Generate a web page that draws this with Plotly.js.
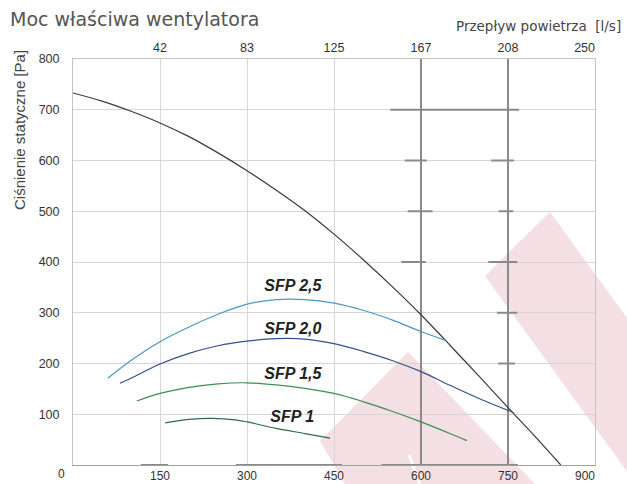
<!DOCTYPE html>
<html>
<head>
<meta charset="utf-8">
<script src="https://cdn.plot.ly/plotly-3.0.1.min.js"></script>
<style>html,body{margin:0;padding:0;background:#fff;}#chart{width:627px;height:484px;}</style>
</head>
<body>
<div id="chart"></div>
<script>
// ---- data (x: m3/h, y: Pa) ----
const fanQ = [0, 50, 100, 150, 200, 250, 300, 350, 400, 450, 500, 550, 600, 650, 700, 750, 800, 841];
const fanP = [733, 717, 697, 674, 647, 615, 580, 542, 501, 455, 405, 352, 296, 236, 175, 113, 52, 0];

const sfp25Q = [60, 100, 150, 200, 250, 300, 350, 400, 450, 500, 550, 600, 641];
const sfp25P = [171, 206, 243, 272, 297, 317, 326, 326, 319, 305, 286, 263, 246];

const sfp20Q = [81, 100, 150, 200, 250, 300, 350, 400, 450, 500, 550, 600, 650, 700, 760];
const sfp20P = [161, 171, 199, 220, 235, 244, 249, 248, 239, 224, 206, 184, 157, 131, 103];

const sfp15Q = [110, 150, 200, 250, 300, 350, 400, 450, 500, 550, 600, 650, 679];
const sfp15P = [126, 141, 153, 160, 162, 158, 151, 141, 125, 106, 85, 62, 48];

const sfp10Q = [159, 200, 240, 280, 300, 350, 400, 443];
const sfp10P = [83, 90, 92, 89, 85, 72, 62, 53];

const sfpNames = ['SFP 2,5', 'SFP 2,0', 'SFP 1,5', 'SFP 1'];
const sfpLabelQ = [379, 379, 379, 378];
const sfpLabelP = [350, 266, 177, 93];

const xTickVals = [150, 300, 450, 600, 750, 900];
const xTickText = ['150', '300', '450', '600', '750', '900'];
const topTickText = ['42', '83', '125', '167', '208', '250'];
const yTickVals = [100, 200, 300, 400, 500, 600, 700, 800];
const yTickText = ['100', '200', '300', '400', '500', '600', '700', '800'];

// reading guide lines
const guideQ = [600, 750];
const rulerP = [700, 600, 600, 500, 500, 400, 400, 300, 200];
const rulerFrom = [547, 572, 721, 577, 734, 566, 716, 731, 733];
const rulerTo = [769, 610, 760, 620, 759, 608, 766, 766, 762];
const baseFrom = [117, 281, 532];
const baseTo = [164, 464, 767];

// ---- styles ----
const NB = '\u00a0';
const pad = NB.repeat(6);
const xText = xTickText.map((t, i) => i === xTickText.length - 1 ? t + pad : t);
const tText = topTickText.map((t, i) => i === topTickText.length - 1 ? t + pad : t);

const tickFont = {family: 'Liberation Sans, Arial, sans-serif', size: 12.5, color: '#333'};
const bottomFont = {family: 'Liberation Sans, Arial, sans-serif', size: 12, color: '#333'};
const curveColors = ['#4a98c9', '#34508f', '#3d8f4f', '#2e6b45'];

// pixel -> paper helpers for decorations outside plot
const L = 73, R = 595, T = 59, B = 465;
const px = v => (v - L) / (R - L);
const py = v => (B - v) / (B - T);

const traces = [
  {x: fanQ, y: fanP, mode: 'lines', line: {color: '#3a3a3a', width: 1.2, shape: 'spline', smoothing: 0.8}, hoverinfo: 'skip'},
  {x: sfp25Q, y: sfp25P, mode: 'lines', line: {color: curveColors[0], width: 1.2, shape: 'spline'}},
  {x: sfp20Q, y: sfp20P, mode: 'lines', line: {color: curveColors[1], width: 1.2, shape: 'spline'}},
  {x: sfp15Q, y: sfp15P, mode: 'lines', line: {color: curveColors[2], width: 1.2, shape: 'spline'}},
  {x: sfp10Q, y: sfp10P, mode: 'lines', line: {color: curveColors[3], width: 1.2, shape: 'spline'}},
  {x: sfpLabelQ, y: sfpLabelP, mode: 'text', text: sfpNames, textposition: 'middle center',
   textfont: {family: 'Liberation Sans, Arial, sans-serif', size: 16, color: '#222', weight: 'bold', style: 'italic'},
   hoverinfo: 'skip'},
  {x: [0, 900], y: [0, 0], xaxis: 'x2', mode: 'lines', line: {width: 0}, hoverinfo: 'skip'}
];

const shapes = [];
// pink watermark
const pink = '#f3dfe4';
function poly(pts) {
  return 'M ' + pts.map(p => px(p[0]) + ',' + py(p[1])).join(' L ') + ' Z';
}
shapes.push({type: 'path', xref: 'paper', yref: 'paper', layer: 'below', line: {width: 0}, fillcolor: pink,
  path: poly([[485, 276], [550, 212], [640, 336], [640, 484], [636, 484]])});
shapes.push({type: 'path', xref: 'paper', yref: 'paper', layer: 'below', line: {width: 0}, fillcolor: pink,
  path: poly([[320, 441], [408, 352], [535, 484], [345, 484]])});
shapes.push({type: 'line', xref: 'paper', yref: 'paper', layer: 'below', line: {width: 3, color: '#ffffff'},
  x0: px(409), y0: py(455), x1: px(420), y1: py(484)});

guideQ.forEach(q => shapes.push({type: 'line', xref: 'x', yref: 'y', layer: 'between', x0: q, x1: q, y0: 0, y1: 800,
  line: {color: '#8a8a8a', width: 2}}));
rulerP.forEach((p, i) => shapes.push({type: 'line', xref: 'x', yref: 'y', layer: 'between', x0: rulerFrom[i], x1: rulerTo[i], y0: p, y1: p,
  line: {color: '#8a8a8a', width: 2}}));
baseFrom.forEach((f, i) => shapes.push({type: 'line', xref: 'x', yref: 'y', layer: 'between', x0: f, x1: baseTo[i], y0: 0, y1: 0,
  line: {color: '#8a8a8a', width: 2}}));

const layout = {
  width: 627, height: 484,
  margin: {l: L, r: 627 - R, t: T, b: 484 - B, pad: 0},
  paper_bgcolor: '#ffffff',
  plot_bgcolor: 'rgba(0,0,0,0)',
  showlegend: false,
  title: {text: 'Moc właściwa wentylatora', xref: 'container', yref: 'container', x: 10 / 627, xanchor: 'left',
    y: 1 - 19 / 484, yanchor: 'middle', font: {family: 'DejaVu Sans, sans-serif', size: 19, color: '#555'}},
  xaxis: {range: [0, 900], tickvals: xTickVals, ticktext: xText, tickfont: bottomFont, ticks: '', ticklabelstandoff: 0,
    showgrid: true, gridcolor: '#d6d6d6', gridwidth: 1, showline: true, linecolor: '#a0a0a0', linewidth: 1,
    zeroline: false, fixedrange: true},
  xaxis2: {range: [0, 900], overlaying: 'x', side: 'top', tickvals: xTickVals, ticktext: tText, tickfont: tickFont,
    ticks: '', ticklabelstandoff: 1, showgrid: false, showline: true, linecolor: '#c4c4c4', linewidth: 1,
    zeroline: false, fixedrange: true},
  yaxis: {range: [0, 800], tickvals: yTickVals, ticktext: yTickText, tickfont: tickFont, ticks: '', ticklabelstandoff: 10,
    showgrid: true, gridcolor: '#d6d6d6', gridwidth: 1, showline: true, linecolor: '#c4c4c4', linewidth: 1,
    mirror: true, zeroline: false, fixedrange: true},
  shapes: shapes,
  annotations: [
    {text: 'Przepływ powietrza  [l/s]', xref: 'paper', yref: 'paper', x: px(623), y: py(26), xanchor: 'right', yanchor: 'middle',
      showarrow: false, font: {family: 'DejaVu Sans, sans-serif', size: 13.5, color: '#444'}},
    {text: 'Ciśnienie statyczne [Pa]', xref: 'paper', yref: 'paper', x: px(19), y: py(130), xanchor: 'center', yanchor: 'middle',
      textangle: -90, showarrow: false, font: {family: 'Liberation Sans, Arial, sans-serif', size: 15, color: '#444'}},
    {text: '0', xref: 'paper', yref: 'paper', x: px(61), y: py(474), xanchor: 'center', yanchor: 'middle',
      showarrow: false, font: bottomFont}
  ]
};

Plotly.newPlot('chart', traces, layout, {displayModeBar: false, staticPlot: true});
</script>
</body>
</html>
